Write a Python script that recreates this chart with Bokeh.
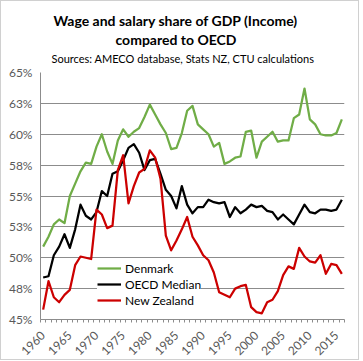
import math
from bokeh.plotting import figure
from bokeh.models import FixedTicker, Title, Legend, LegendItem, Range1d
from bokeh.embed import file_html
from bokeh.resources import INLINE

years = list(range(1960, 2017))

denmark = [50.9, 51.7, 52.7, 53.1, 52.8, 55.0, 56.0, 57.0, 57.7, 57.6,
           59.0, 60.0, 58.6, 57.6, 59.5, 60.4, 59.8, 60.2, 60.5, 61.4,
           62.4, 61.6, 60.8, 60.1, 58.8, 58.9, 60.1, 61.9, 62.3, 60.8,
           60.4, 60.0, 59.0, 59.3, 57.6, 57.8, 58.1, 58.2, 60.2, 60.3,
           58.1, 59.4, 59.8, 60.2, 59.4, 59.5, 59.5, 61.3, 61.6, 63.7,
           61.2, 60.8, 60.0, 59.9, 59.9, 60.1, 61.2]

oecd_median = [48.4, 48.5, 50.2, 50.9, 51.9, 50.8, 52.3, 54.3, 53.4, 53.1,
               53.7, 55.4, 55.0, 56.8, 57.0, 57.9, 58.9, 59.2, 58.5, 57.1,
               57.9, 58.0, 56.8, 55.5, 55.0, 54.0, 55.8, 54.3, 53.6, 54.1,
               54.1, 54.7, 54.5, 54.4, 54.5, 53.3, 54.1, 53.6, 53.9, 54.3,
               54.1, 54.2, 53.8, 53.7, 53.1, 53.5, 53.1, 52.7, 53.5, 54.3,
               53.7, 53.6, 53.9, 53.9, 53.8, 53.9, 54.7]

new_zealand = [45.8, 48.1, 46.8, 46.4, 47.0, 47.4, 49.4, 50.1, 50.0, 49.9,
               53.9, 53.5, 52.4, 52.6, 57.1, 58.3, 54.4, 55.8, 56.9, 57.2,
               58.7, 58.1, 56.4, 51.8, 50.6, 51.4, 52.3, 53.3, 51.7, 51.0,
               50.2, 49.8, 48.8, 47.2, 47.0, 46.8, 47.5, 47.7, 47.8, 46.0,
               45.6, 45.5, 46.4, 46.6, 47.3, 48.6, 49.3, 49.1, 50.8, 50.1,
               49.7, 49.6, 50.2, 48.7, 49.5, 49.4, 48.7]

y_ticks = [45, 47.5, 50, 52.5, 55, 57.5, 60, 62.5, 65]
y_tick_labels = ["45%", "48%", "50%", "53%", "55%", "58%", "60%", "63%", "65%"]
x_label_years = [1960, 1965, 1970, 1975, 1980, 1985, 1990, 1995, 2000, 2005, 2010, 2015]

series_names = ["Denmark", "OECD Median", "New Zealand"]
series_colors = ["#70AD47", "#000000", "#CC0000"]

title_line1 = "Wage and salary share of GDP (Income)"
title_line2 = "compared to OECD"
source_text = "Sources: AMECO database, Stats NZ, CTU calculations"

FONT = "Lato"
GRID = "#8c8c8c"

p = figure(width=359, height=360, output_backend="svg", toolbar_location=None,
           title=None,
           x_range=Range1d(years[0] - 0.5, years[-1] + 0.5),
           y_range=Range1d(y_ticks[0], y_ticks[-1]),
           min_border_left=39, min_border_right=16, min_border_bottom=42,
           min_border_top=71)
p.background_fill_color = "white"
p.border_fill_color = "white"
p.outline_line_color = None
p.styles = {"border": "1px solid #d0d0d0", "box-sizing": "border-box"}

t_src = Title(text=source_text, align="left", offset=11, vertical_align="top",
              text_font=FONT, text_font_size="11px", text_font_style="normal",
              text_color="#000000", standoff=9.5)
t_l2 = Title(text=title_line2, align="left", offset=75,
             text_font=FONT, text_font_size="14px", text_font_style="bold",
             text_color="#000000", standoff=0)
t_l1 = Title(text=title_line1, align="left", offset=13,
             text_font=FONT, text_font_size="14px", text_font_style="bold",
             text_color="#000000", standoff=0)
p.add_layout(t_src, "above")
p.add_layout(t_l2, "above")
p.add_layout(t_l1, "above")

# grid
p.xgrid.visible = False
p.ygrid.ticker = FixedTicker(ticks=y_ticks)
p.ygrid.grid_line_color = GRID
p.ygrid.grid_line_width = 1

# y axis
overrides = {}
for t, lab in zip(y_ticks, y_tick_labels):
    overrides[float(t)] = lab
    overrides[str(t)] = lab
p.yaxis.ticker = FixedTicker(ticks=y_ticks)
p.yaxis.major_label_overrides = overrides
p.yaxis.axis_line_color = GRID
p.yaxis.major_tick_line_color = None
p.yaxis.minor_tick_line_color = None
p.yaxis.major_tick_out = 0
p.yaxis.major_tick_in = 0
p.yaxis.major_label_standoff = 8
p.yaxis.major_label_text_font = FONT
p.yaxis.major_label_text_font_size = "12px"
p.yaxis.major_label_text_color = "#595959"

# x axis
minor = [y - 0.5 for y in years] + [years[-1] + 0.5]
p.xaxis.ticker = FixedTicker(ticks=x_label_years, minor_ticks=minor)
p.xaxis.axis_line_color = GRID
p.xaxis.major_tick_line_color = None
p.xaxis.major_tick_out = 0
p.xaxis.major_tick_in = 0
p.xaxis.minor_tick_line_color = GRID
p.xaxis.minor_tick_out = 3
p.xaxis.minor_tick_in = 0
p.xaxis.major_label_orientation = math.pi / 4
p.xaxis.major_label_standoff = 11
p.xaxis.major_label_text_font = FONT
p.xaxis.major_label_text_font_size = "12px"
p.xaxis.major_label_text_color = "#595959"

renderers = []
for vals, col in zip([denmark, oecd_median, new_zealand], series_colors):
    r = p.line(years, vals, line_color=col, line_width=2.25, line_join="round")
    renderers.append(r)

legend = Legend(items=[LegendItem(label=n, renderers=[r]) for n, r in zip(series_names, renderers)],
                location=(57, 11), orientation="vertical",
                background_fill_color="white", background_fill_alpha=1.0,
                border_line_color=None, padding=1, margin=0, spacing=0,
                label_height=16, glyph_height=16, glyph_width=24, label_standoff=4,
                label_text_font=FONT, label_text_font_size="12px",
                label_text_color="#000000")
p.add_layout(legend, "center")

open("out.html", "w").write(file_html(p, INLINE))
